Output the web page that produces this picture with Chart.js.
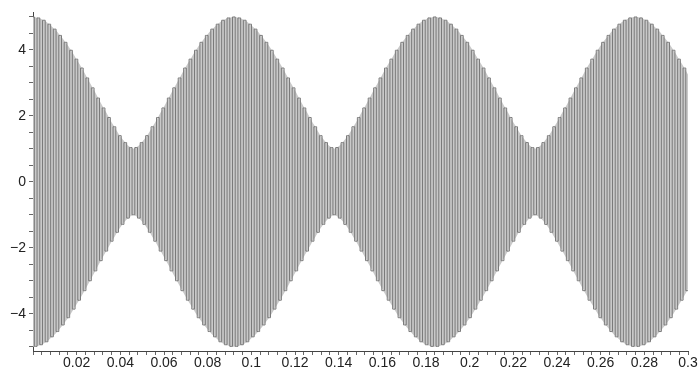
<!DOCTYPE html>
<html>
<head>
<meta charset="utf-8">
<title>beats</title>
<script src="https://cdn.jsdelivr.net/npm/chart.js@4/dist/chart.umd.min.js"></script>
<style>
  html, body { margin: 0; padding: 0; background: #fff; }
  #wrap { width: 700px; height: 371px; }
</style>
</head>
<body>
<div id="wrap"><canvas id="myChart" width="700" height="371"></canvas></div>
<script>
// time between two successive extremes of the wave (s)
const step = 0.0012432;

// size of every swing of the wave, read off its envelope in the plot
// (one value per extreme, the sign flips from one to the next)
const swing = [
  // 1st lobe + neck
  5.00,4.99,4.97,4.94,4.90,4.85,4.78,4.70,4.63,4.54,4.44,4.34,4.23,4.12,3.99,3.86,3.72,3.59,3.45,
  3.30,3.15,3.00,2.85,2.70,2.54,2.39,2.24,2.10,1.95,1.80,1.67,1.53,1.40,1.29,1.19,1.10,1.04,1.00,
  1.04,1.10,1.19,1.29,1.40,1.53,1.67,1.80,1.95,2.10,2.24,2.39,2.54,2.70,2.85,3.00,3.15,3.30,3.45,
  3.59,3.72,3.86,3.99,4.12,4.23,4.34,4.44,4.54,4.63,4.70,4.78,4.85,4.90,4.94,4.97,4.99,
  // 2nd lobe + neck
  5.00,4.99,4.97,4.94,4.90,4.85,4.78,4.70,4.63,4.54,4.44,4.34,4.23,4.12,3.99,3.86,3.72,3.59,3.45,
  3.30,3.15,3.00,2.85,2.70,2.54,2.39,2.24,2.10,1.95,1.80,1.67,1.53,1.40,1.29,1.19,1.10,1.04,1.00,
  1.04,1.10,1.19,1.29,1.40,1.53,1.67,1.80,1.95,2.10,2.24,2.39,2.54,2.70,2.85,3.00,3.15,3.30,3.45,
  3.59,3.72,3.86,3.99,4.12,4.23,4.34,4.44,4.54,4.63,4.70,4.78,4.85,4.90,4.94,4.97,4.99,
  // 3rd lobe + neck
  5.00,4.99,4.97,4.94,4.90,4.85,4.78,4.70,4.63,4.54,4.44,4.34,4.23,4.12,3.99,3.86,3.72,3.59,3.45,
  3.30,3.15,3.00,2.85,2.70,2.54,2.39,2.24,2.10,1.95,1.80,1.67,1.53,1.40,1.29,1.19,1.10,1.04,1.00,
  1.04,1.10,1.19,1.29,1.40,1.53,1.67,1.80,1.95,2.10,2.24,2.39,2.54,2.70,2.85,3.00,3.15,3.30,3.45,
  3.59,3.72,3.86,3.99,4.12,4.23,4.34,4.44,4.54,4.63,4.70,4.78,4.85,4.90,4.94,4.97,4.99,
  // last lobe, cut at 0.3
  5.00,4.99,4.97,4.94,4.90,4.85,4.78,4.70,4.63,4.54,4.44,4.34,4.23,4.12,3.99,3.86,3.72,3.59,3.45,
  3.30,3.15
];

// tick labels
const xLabels = ['0.02','0.04','0.06','0.08','0.1','0.12','0.14','0.16','0.18','0.2','0.22','0.24','0.26','0.28','0.3'];
const yLabels = ['\u22124','\u22122','0','2','4'];
const xMinor = 0.004;
const yMinor = 0.5;

// the wave : up, down, up, down ...
const points = swing.map((a, i) => ({ x: i * step, y: i % 2 ? -a : a }));
// its envelope, for the grey haze between the strokes
const upper = swing.map((a, i) => ({ x: i * step, y: a }));
const lower = swing.map((a, i) => ({ x: i * step, y: -a }));

const labelFor = (labels, v) => {
  const hit = labels.find(l => Math.abs(parseFloat(l.replace('\u2212', '-')) - v) < 1e-6);
  return hit || '';
};

const tickFont = { family: "'Liberation Sans', Arial, sans-serif", size: 14 };

const ctx = document.getElementById('myChart');

new Chart(ctx, {
  type: 'line',
  data: {
    datasets: [
      {
        data: points,
        borderColor: '#7a7a7a',
        borderWidth: 1,
        pointRadius: 0,
        stepped: 'middle',
        fill: false,
        order: 0
      },
      {
        data: upper,
        borderWidth: 0,
        borderColor: 'rgba(0,0,0,0)',
        backgroundColor: '#c9c9c9',
        pointRadius: 0,
        fill: '+1',
        order: 1
      },
      {
        data: lower,
        borderWidth: 0,
        borderColor: 'rgba(0,0,0,0)',
        pointRadius: 0,
        fill: false,
        order: 2
      }
    ]
  },
  options: {
    responsive: false,
    animation: false,
    events: [],
    layout: { padding: { top: 12, right: 12, left: 0, bottom: 0 } },
    plugins: { legend: { display: false }, tooltip: { enabled: false } },
    scales: {
      x: {
        type: 'linear',
        min: 0,
        max: 0.3,
        afterBuildTicks: scale => {
          const t = [];
          for (let i = 0; i <= 75; i++) t.push({ value: +(i * xMinor).toFixed(3) });
          scale.ticks = t;
        },
        afterFit: scale => { scale.height = 20; },
        ticks: {
          autoSkip: false,
          maxRotation: 0,
          padding: 0,
          color: '#222',
          font: tickFont,
          callback: v => labelFor(xLabels, v)
        },
        grid: { drawOnChartArea: false, drawTicks: true, tickLength: 4, tickColor: '#666' },
        border: { display: true, color: '#444', width: 1 }
      },
      y: {
        min: -5.13,
        max: 5.15,
        afterBuildTicks: scale => {
          const t = [];
          for (let i = -10; i <= 10; i++) t.push({ value: i * yMinor });
          scale.ticks = t;
        },
        afterFit: scale => { scale.width = 33; },
        ticks: {
          autoSkip: false,
          padding: 3,
          color: '#222',
          font: tickFont,
          callback: v => labelFor(yLabels, v)
        },
        grid: { drawOnChartArea: false, drawTicks: true, tickLength: 4, tickColor: '#666' },
        border: { display: true, color: '#444', width: 1 }
      }
    }
  }
});
</script>
</body>
</html>
